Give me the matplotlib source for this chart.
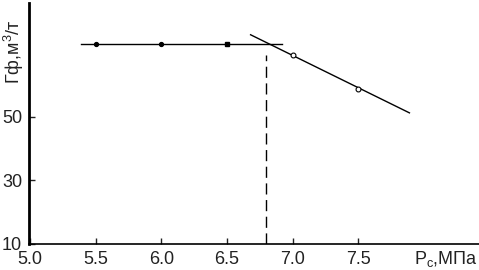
import matplotlib
matplotlib.use("Agg")
import matplotlib.pyplot as plt

plt.rcParams['font.family'] = ['Liberation Sans', 'DejaVu Sans']

# горизонтальный участок
flat_x = [5.39, 6.92]
flat_y = [73.0, 73.0]
flat_pts_x = [5.5, 6.0, 6.5]
flat_pts_y = [73.0, 73.0, 73.0]

# наклонный участок
slope_x = [6.68, 7.89]
slope_y = [75.9, 51.3]
slope_pts_x = [7.0, 7.5]
slope_pts_y = [69.4, 58.9]

# давление насыщения (пунктир)
p_sat = 6.80
p_sat_y = [10.0, 69.5]

xticks = [5.0, 5.5, 6.0, 6.5, 7.0, 7.5]
yticks = [10, 30, 50]

fig = plt.figure(figsize=(4.79, 2.70), dpi=100)
ax = fig.add_axes([29/479, 1 - 244/270, 1 - 29/479, 241/270])

ax.plot(flat_x, flat_y, color='black', lw=1.0)
ax.plot(flat_pts_x[:2], flat_pts_y[:2], 'o', color='black', ms=2.8)
ax.plot(flat_pts_x[2:], flat_pts_y[2:], 's', color='black', ms=2.8)
ax.plot(slope_x, slope_y, color='black', lw=1.0)
ax.plot(slope_pts_x, slope_pts_y, 'o', mfc='white', mec='black', ms=3.5, mew=0.8)
ax.plot([p_sat, p_sat], p_sat_y, color='black', lw=1.0, dashes=(8, 4))

ax.set_xlim(4.992, 8.42)
ax.set_ylim(10, 85.9)
ax.set_xticks(xticks)
ax.set_xticklabels(['5.0', '5.5', '6.0', '6.5', '7.0', '7.5'])
ax.set_yticks(yticks)
ax.spines['top'].set_visible(False)
ax.spines['right'].set_visible(False)
ax.spines['left'].set_linewidth(2)
ax.spines['bottom'].set_linewidth(1.2)
ax.tick_params(direction='in', length=4, width=1, labelsize=13, colors='#222222')
ax.tick_params(axis='x', pad=5)
ax.tick_params(axis='y', pad=5)

fig.text(0.998, 0.04, 'P$_\\mathregular{с}$,МПа', fontsize=13, ha='right', va='center', color='#222222')
fig.text(0.03, 0.81, 'Гф,м$^\\mathregular{3}$/т', fontsize=13, rotation=90, ha='center', va='center', color='#222222')

fig.savefig('out.png', dpi=100)
